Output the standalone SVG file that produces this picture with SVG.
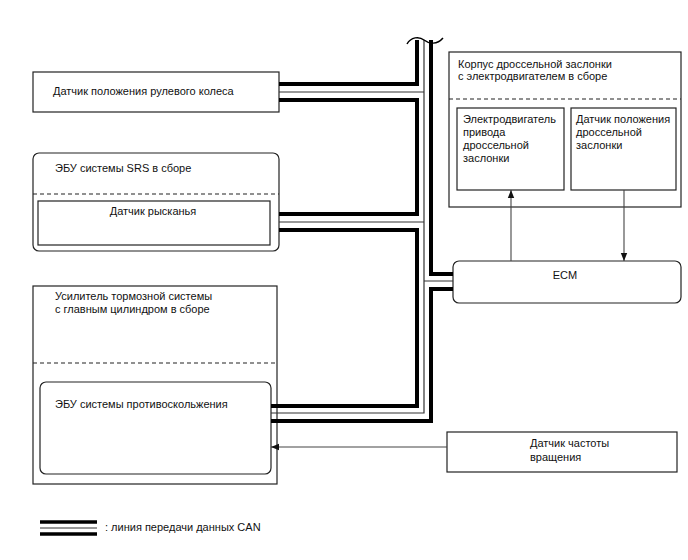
<svg xmlns="http://www.w3.org/2000/svg" width="688" height="560" viewBox="0 0 688 560">
<defs>
<marker id="arr" viewBox="0 0 10 10" refX="10" refY="5" markerWidth="8" markerHeight="8" markerUnits="userSpaceOnUse" orient="auto">
<path d="M0,1 L10,5 L0,9 Z" fill="#111"/>
</marker>
<style>
.box{fill:#fff;stroke:#222;stroke-width:1.2}
.dash{fill:none;stroke:#222;stroke-width:1.2;stroke-dasharray:4,3}
.t{font-family:"Liberation Sans",Arial,sans-serif;font-size:11px;fill:#111}
.thick{fill:none;stroke:#000;stroke-width:4;stroke-linejoin:miter;stroke-linecap:butt}
.thin{fill:none;stroke:#333;stroke-width:1.2}
.ar{fill:none;stroke:#444;stroke-width:1.1;marker-end:url(#arr)}
</style>
</defs>
<rect width="688" height="560" fill="#fff"/>

<g id="steering-sensor">
<rect class="box" x="33" y="72" width="246" height="40"/>
<text class="t" x="53" y="95">Датчик положения рулевого колеса</text>
</g>

<g id="srs-ecu">
<rect class="box" x="33" y="153" width="246" height="98" rx="6"/>
<text class="t" x="55" y="172">ЭБУ системы SRS в сборе</text>
<line class="dash" x1="33" y1="194" x2="279" y2="194"/>
<g id="yaw-sensor">
<rect class="box" x="38" y="201" width="232" height="44"/>
<text class="t" x="153" y="215" text-anchor="middle">Датчик рысканья</text>
</g>
</g>

<g id="brake-booster">
<rect class="box" x="33" y="286" width="244" height="198"/>
<text class="t" x="55" y="300">Усилитель тормозной системы</text>
<text class="t" x="55" y="313">с главным цилиндром в сборе</text>
<line class="dash" x1="33" y1="363" x2="277" y2="363"/>
<g id="abs-ecu">
<rect class="box" x="40" y="382" width="231" height="92" rx="6"/>
<text class="t" x="55" y="408">ЭБУ системы противоскольжения</text>
</g>
</g>

<g id="throttle-body">
<rect class="box" x="449" y="52" width="232" height="155"/>
<text class="t" x="458" y="68">Корпус дроссельной заслонки</text>
<text class="t" x="458" y="80">с электродвигателем в сборе</text>
<line class="dash" x1="449" y1="99" x2="681" y2="99"/>
<g id="throttle-motor">
<rect class="box" x="457" y="108" width="107" height="82"/>
<text class="t" x="463" y="123">Электродвигатель</text>
<text class="t" x="463" y="136">привода</text>
<text class="t" x="463" y="149">дроссельной</text>
<text class="t" x="463" y="162">заслонки</text>
</g>
<g id="throttle-sensor">
<rect class="box" x="571" y="108" width="105" height="82"/>
<text class="t" x="576" y="123">Датчик положения</text>
<text class="t" x="576" y="136">дроссельной</text>
<text class="t" x="576" y="149">заслонки</text>
</g>
</g>

<g id="ecm">
<rect class="box" x="453" y="261" width="228" height="42" rx="6"/>
<text class="t" x="565" y="279" text-anchor="middle">ECM</text>
</g>

<g id="speed-sensor">
<rect class="box" x="447" y="432" width="230" height="40"/>
<text class="t" x="530" y="447">Датчик частоты</text>
<text class="t" x="530" y="461">вращения</text>
</g>

<g id="connectors">
<path class="thick" d="M417,40 V84 H279 M279,100 H417 V214 H279 M279,230 H417 V406 H271"/>
<path class="thin" d="M424,40 V413 H271 M279,92 H424 M279,222 H424 M424,281 H453"/>
<path class="thick" d="M431,40 V274 H453 M453,289 H431 V421 H271"/>
<path d="M407,44 C411,37 419,36 424,40 C429,44 437,45 443,38" fill="none" stroke="#000" stroke-width="1.5"/>
<line class="ar" x1="511" y1="261" x2="511" y2="190"/>
<line class="ar" x1="624" y1="190" x2="624" y2="261"/>
<line class="ar" x1="447" y1="447" x2="271" y2="447"/>
</g>

<g id="legend">
<line x1="40" y1="522" x2="97" y2="522" stroke="#000" stroke-width="3.5"/>
<line x1="40" y1="528" x2="97" y2="528" stroke="#333" stroke-width="1.2"/>
<line x1="40" y1="534" x2="97" y2="534" stroke="#000" stroke-width="3.5"/>
<text class="t" x="105" y="531">: линия передачи данных CAN</text>
</g>
</svg>
